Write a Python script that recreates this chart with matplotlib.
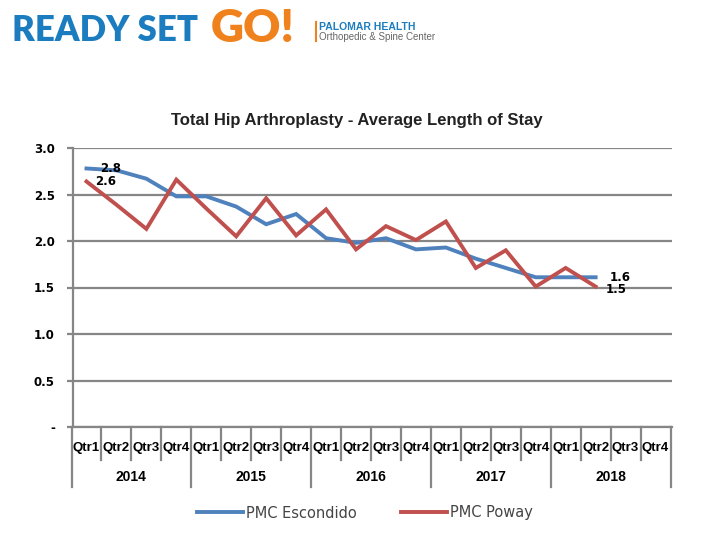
import matplotlib
matplotlib.use('Agg')
import matplotlib.pyplot as plt
from matplotlib.lines import Line2D
from matplotlib.ticker import FuncFormatter
import matplotlib.transforms as mtransforms

# Average length of stay per quarter, Qtr1 2014 .. Qtr2 2018
years = ['2014', '2015', '2016', '2017', '2018']
quarters = ['Qtr1', 'Qtr2', 'Qtr3', 'Qtr4']
escondido = [2.78, 2.76, 2.67, 2.48, 2.48, 2.37, 2.18, 2.29, 2.03, 1.98,
             2.03, 1.91, 1.93, 1.81, 1.71, 1.61, 1.61, 1.61]
poway = [2.64, 2.39, 2.13, 2.66, 2.35, 2.05, 2.46, 2.06, 2.34, 1.91,
         2.16, 2.01, 2.21, 1.71, 1.90, 1.51, 1.71, 1.51]

blue = '#4F81BD'
red = '#C0504D'
grid_col = '#868686'

fig = plt.figure(figsize=(7.2, 5.4), dpi=100)
fig.patch.set_facecolor('white')

# header banner
fig.text(12 / 720, 1 - 31 / 540, 'READY SET', color='#1B7DBF', fontsize=25,
         fontweight='heavy', family='Lato', va='center', ha='left')
fig.text(211 / 720, 1 - 29 / 540, 'GO!', color='#F0821E', fontsize=33,
         fontweight='heavy', family='Lato', va='center', ha='left')
fig.add_artist(Line2D([316 / 720, 316 / 720], [1 - 22 / 540, 1 - 41 / 540],
                      color='#F0821E', lw=1.5, transform=fig.transFigure))
fig.text(319 / 720, 1 - 27 / 540, 'PALOMAR HEALTH', color='#1B7DBF', fontsize=7.5,
         fontweight='bold', family='Liberation Sans', va='center', ha='left')
fig.text(319 / 720, 1 - 37 / 540, 'Orthopedic & Spine Center', color='#666666',
         fontsize=7, family='Liberation Sans', va='center', ha='left')

fig.text(357 / 720, 1 - 121 / 540, 'Total Hip Arthroplasty - Average Length of Stay',
         fontsize=12, fontweight='bold', family='Liberation Sans',
         color='#222222', ha='center', va='center')

ax = fig.add_axes([73 / 720, 1 - 427 / 540, 599 / 720, 279 / 540])
x = list(range(len(escondido)))
ax.plot(x, escondido, color=blue, lw=2.8, label='PMC Escondido', solid_joinstyle='miter')
ax.plot(x, poway, color=red, lw=2.8, label='PMC Poway', solid_joinstyle='miter')

ax.set_xlim(-0.45, 19.55)
ax.set_ylim(0, 3.0)
ax.set_yticks([0, 0.5, 1.0, 1.5, 2.0, 2.5, 3.0])
ax.yaxis.set_major_formatter(FuncFormatter(lambda v, p: '-' if v == 0 else '%.1f' % v))
ax.yaxis.grid(True, color=grid_col, lw=1.6)
ax.set_axisbelow(True)
ax.tick_params(axis='y', length=4, color=grid_col, width=1.6, pad=9, labelsize=8.5)
for lab in ax.get_yticklabels():
    lab.set_fontweight('bold')
ax.set_xticks([])
for s in ['top', 'right']:
    ax.spines[s].set_visible(False)
ax.spines['left'].set_color(grid_col)
ax.spines['left'].set_linewidth(1.6)
ax.spines['bottom'].set_color(grid_col)
ax.spines['bottom'].set_linewidth(1.6)

# data labels on first and last points
lab_kw = dict(fontsize=8.5, fontweight='bold', color='black', va='center', ha='left')
ax.annotate('%.1f' % escondido[0], (0, escondido[0]), xytext=(10, 0),
            textcoords='offset points', **lab_kw)
ax.annotate('%.1f' % poway[0], (0, poway[0]), xytext=(6, 0),
            textcoords='offset points', **lab_kw)
ax.annotate('%.1f' % escondido[-1], (x[-1], escondido[-1]), xytext=(10, 0),
            textcoords='offset points', **lab_kw)
ax.annotate('%.1f' % poway[-1], (x[-1], poway[-1]), xytext=(7, -2),
            textcoords='offset points', **lab_kw)

# two-level category axis
trans = mtransforms.blended_transform_factory(ax.transData, ax.transAxes)
n = len(years) * len(quarters)
for i in range(n):
    ax.text(i, -0.075, quarters[i % 4], transform=trans, ha='center', va='center',
            fontsize=9.5, fontweight='bold', family='Liberation Sans', color='black')
for i in range(n + 1):
    bottom = -0.215 if i % 4 == 0 else -0.12
    ax.add_line(Line2D([i - 0.5, i - 0.5], [0, bottom], color=grid_col, lw=1.6,
                       transform=trans, clip_on=False))
for j, yr in enumerate(years):
    ax.text(j * 4 + 1.5, -0.18, yr, transform=trans, ha='center', va='center',
            fontsize=10, fontweight='bold', family='Liberation Sans', color='black')

leg = fig.legend(loc='center', bbox_to_anchor=(365 / 720, 1 - 513 / 540), ncol=2,
                 frameon=False, fontsize=10.5, handlelength=3.2, columnspacing=3.0,
                 handletextpad=0.2)
for t in leg.get_texts():
    t.set_color('#444444')

fig.savefig('out.png', dpi=100)
